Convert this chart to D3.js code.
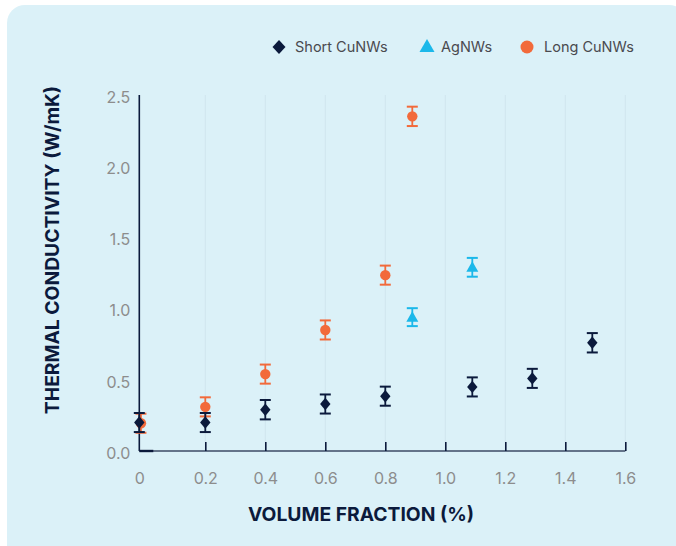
<!DOCTYPE html>
<html><head><meta charset="utf-8">
<script src="https://cdn.jsdelivr.net/npm/d3@7"></script>
<style>
html,body{margin:0;padding:0;background:#fff;}
svg{display:block;}
</style></head>
<body>
<svg id="chart" width="676" height="546"></svg>
<script>
// ---- data ----
const xTicks = [0, 0.2, 0.4, 0.6, 0.8, 1.0, 1.2, 1.4, 1.6];
const xTickLabels = ["0", "0.2", "0.4", "0.6", "0.8", "1.0", "1.2", "1.4", "1.6"];
const yTicks = [0, 0.5, 1.0, 1.5, 2.0, 2.5];
const yTickLabels = ["0.0", "0.5", "1.0", "1.5", "2.0", "2.5"];

const seriesNames = ["Short CuNWs", "AgNWs", "Long CuNWs"];

const shortX = [0, 0.2, 0.4, 0.6, 0.8, 1.09, 1.29, 1.49];
const shortY = [0.20, 0.20, 0.29, 0.33, 0.385, 0.45, 0.51, 0.76];
const shortErr = [0.067, 0.067, 0.068, 0.067, 0.067, 0.067, 0.067, 0.068];

const agX = [0.89, 1.09];
const agY = [0.94, 1.29];
const agErr = [0.063, 0.066];

const longX = [0.005, 0.2, 0.4, 0.6, 0.8, 0.89];
const longY = [0.195, 0.31, 0.54, 0.85, 1.235, 2.35];
const longErr = [0.067, 0.067, 0.067, 0.067, 0.067, 0.068];

// ---- layout ----
const svg = d3.select("#chart");
const navy = "#0b1a3c", cyan = "#1bb8ea", orange = "#f26a3b";
const tickGray = "#8d8d8d";
const fontFam = "Inter, 'Open Sans', sans-serif";

svg.append("rect").attr("x", 7).attr("y", 5).attr("width", 680).attr("height", 546 + 20)
  .attr("rx", 18).attr("fill", "#dbf1f8");
svg.append("rect").attr("x", 7).attr("y", 520).attr("width", 680).attr("height", 28)
  .attr("rx", 14).attr("fill", "#dbf1f8");

const x = d3.scaleLinear().domain([0, 0.2, 1.6]).range([139.3, 205.3, 625.3]);
const y = d3.scaleLinear().domain([0, 2.5]).range([451, 95]);

// gridlines
svg.append("g").selectAll("line").data(xTicks.slice(1)).join("line")
  .attr("x1", d => x(d)).attr("x2", d => x(d))
  .attr("y1", y(2.5)).attr("y2", y(0))
  .attr("stroke", "#d0e6ee").attr("stroke-width", 1);

// x axis
const xAxis = d3.axisBottom(x).tickValues(xTicks).tickFormat((d, i) => xTickLabels[i]).tickSize(0).tickPadding(22);
const gx = svg.append("g").attr("transform", `translate(0,${y(0)})`).call(xAxis);
gx.select(".domain").attr("stroke", "#3c4a66").attr("stroke-width", 1.6)
  .attr("d", `M${x(0)},0H${x(1.6)}`);
gx.selectAll(".tick text").attr("fill", tickGray).attr("font-size", 16).attr("font-family", fontFam);
gx.selectAll(".tick").filter(d => d > 0).append("line")
  .attr("y1", 0).attr("y2", -9).attr("stroke", navy).attr("stroke-width", 1.6);
gx.append("line").attr("x1", x(0)).attr("x2", x(0) + 14).attr("y1", 0).attr("y2", 0)
  .attr("stroke", navy).attr("stroke-width", 2.4);

// y axis
const yAxis = d3.axisLeft(y).tickValues(yTicks).tickFormat((d, i) => yTickLabels[i]).tickSize(0).tickPadding(9);
const gy = svg.append("g").attr("transform", `translate(${x(0)},0)`).call(yAxis);
gy.select(".domain").attr("stroke", navy).attr("stroke-width", 1.6)
  .attr("d", `M0,${y(2.5)}V${y(0)}`);
gy.selectAll(".tick text").attr("fill", tickGray).attr("font-size", 16).attr("font-family", fontFam)
  .attr("dy", "0.45em");

// axis titles
svg.append("text").attr("x", 361).attr("y", 521).attr("text-anchor", "middle")
  .attr("font-family", fontFam).attr("font-weight", 700).attr("font-size", 19.3).attr("fill", navy)
  .text("VOLUME FRACTION (%)");
svg.append("text").attr("transform", "translate(59,250) rotate(-90)").attr("text-anchor", "middle")
  .attr("font-family", fontFam).attr("font-weight", 700).attr("font-size", 19.3).attr("fill", navy)
  .text("THERMAL CONDUCTIVITY (W/mK)");

// series drawing
function drawSeries(xs, ys, es, color, shape) {
  const data = xs.map((d, i) => ({ x: d, y: ys[i], e: es[i] }));
  const g = svg.append("g");
  const cap = 5.5;
  const eb = g.selectAll("g.eb").data(data).join("g");
  eb.append("line").attr("x1", d => x(d.x)).attr("x2", d => x(d.x))
    .attr("y1", d => y(d.y + d.e)).attr("y2", d => y(d.y - d.e))
    .attr("stroke", color).attr("stroke-width", 1.8);
  eb.append("line").attr("x1", d => x(d.x) - cap).attr("x2", d => x(d.x) + cap)
    .attr("y1", d => y(d.y + d.e)).attr("y2", d => y(d.y + d.e))
    .attr("stroke", color).attr("stroke-width", 2);
  eb.append("line").attr("x1", d => x(d.x) - cap).attr("x2", d => x(d.x) + cap)
    .attr("y1", d => y(d.y - d.e)).attr("y2", d => y(d.y - d.e))
    .attr("stroke", color).attr("stroke-width", 2);
  g.selectAll("path.m").data(data).join("path")
    .attr("transform", d => `translate(${x(d.x)},${y(d.y)})`)
    .attr("d", shape).attr("fill", color);
}
const diamond = "M0,-6.2L5.2,0L0,6.2L-5.2,0Z";
const triangle = "M0,-6L6,4.5L-6,4.5Z";
const circle = d3.symbol(d3.symbolCircle, Math.PI * 5.2 * 5.2)();

drawSeries(longX, longY, longErr, orange, circle);
drawSeries(agX, agY, agErr, cyan, triangle);
drawSeries(shortX, shortY, shortErr, navy, diamond);

// legend
const legend = [
  { name: seriesNames[0], color: navy, shape: "M0,-7L6.5,0L0,7L-6.5,0Z", my: 47, mx: 279, tx: 295 },
  { name: seriesNames[1], color: cyan, shape: "M0,-7L7.5,6L-7.5,6Z", my: 46, mx: 427, tx: 441 },
  { name: seriesNames[2], color: orange, shape: d3.symbol(d3.symbolCircle, Math.PI * 6.5 * 6.5)(), my: 47, mx: 527, tx: 544 }
];
const lg = svg.append("g").selectAll("g").data(legend).join("g");
lg.append("path").attr("transform", d => `translate(${d.mx},${d.my})`)
  .attr("d", d => d.shape).attr("fill", d => d.color);
lg.append("text").attr("x", d => d.tx).attr("y", 52).attr("font-family", fontFam)
  .attr("font-size", 14.5).attr("fill", "#4a4a4f").text(d => d.name);
</script>
</body></html>
